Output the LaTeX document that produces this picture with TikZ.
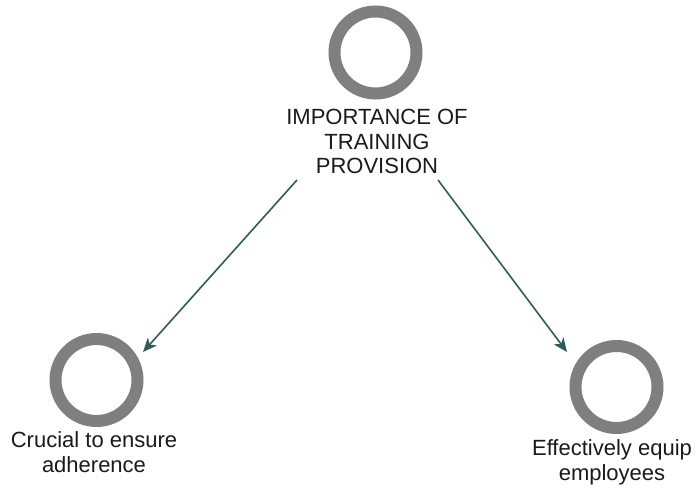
\documentclass[tikz,border=0pt]{standalone}
\usepackage{fontspec}
\setmainfont{Liberation Sans}
\usetikzlibrary{arrows.meta,calc}
\definecolor{ringgray}{HTML}{7F7F7F}
\definecolor{arrteal}{HTML}{2E5C58}
\definecolor{txt}{HTML}{1A1A1A}
\begin{document}
\begin{tikzpicture}[x=1pt,y=-1pt,
  ring/.style={circle,draw=ringgray,line width=12pt,minimum size=82pt,inner sep=0pt},
  lbl/.style={align=center,inner sep=0pt,anchor=base,text=txt,font=\fontsize{22}{24.8}\selectfont},
  conn/.style={draw=arrteal,line width=1.6pt,-{Stealth[length=14pt,width=12pt,inset=4pt]}}]
\useasboundingbox (0,0) rectangle (697,489);
\node[ring] (c0) at (375.5,52.5) {};
\node[ring] (c1) at (96.5,380) {};
\node[ring] (c2) at (616.5,387) {};
\node[lbl] (t0) at (377,174) {IMPORTANCE OF\\TRAINING\\PROVISION};
\node[lbl] (l1) at (94,472) {Crucial to ensure\\adherence};
\node[lbl] (l2) at (612,480) {Effectively equip\\employees};
\draw[conn] ($(c0)+(-78.5,127.5)$) -- ($(c1)+(46.5,-28)$);
\draw[conn] ($(c0)+(62.5,127.5)$) -- ($(c2)+(-49.5,-35)$);
\end{tikzpicture}
\end{document}
